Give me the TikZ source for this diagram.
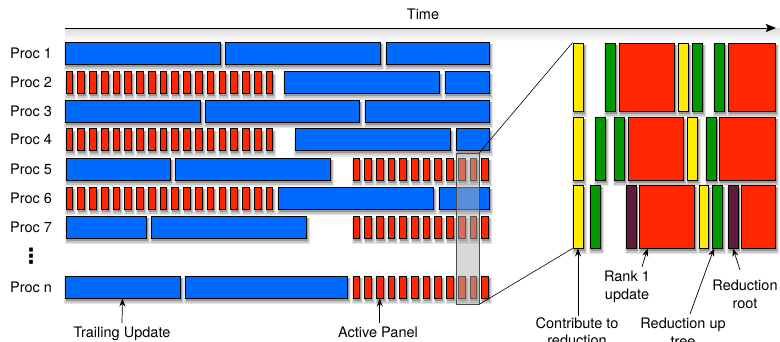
\documentclass[tikz,border=0pt]{standalone}
\usepackage{fontspec}
\setmainfont{TeX Gyre Heros}
\newfontfamily\dotsfont{DejaVu Sans}
\usepackage{tikz}
\usetikzlibrary{arrows.meta}
\pgfdeclarelayer{nodelayer}
\pgfdeclarelayer{edgelayer}
\pgfsetlayers{nodelayer,edgelayer,main}
\definecolor{trailblue}{RGB}{0,106,255}
\definecolor{panelred}{RGB}{255,38,0}
\definecolor{contribyellow}{RGB}{255,236,0}
\definecolor{upgreen}{RGB}{0,153,0}
\definecolor{rootpurple}{RGB}{94,28,58}
\tikzset{
    none/.style = {inner sep=0pt},
    box/.style = {draw=black, line width=0.9pt, inner sep=0pt},
    softshadow/.style = {fill=black!10},
    midshadow/.style = {fill=black!22},
    hardshadow/.style = {fill=black!40},
    trail/.style = {box, fill=trailblue},
    panel/.style = {box, fill=panelred},
    contrib/.style = {box, fill=contribyellow},
    upgr/.style = {box, fill=upgreen},
    rankone/.style = {box, fill=panelred},
    redroot/.style = {box, fill=rootpurple},
    hilite/.style = {draw=black!70, line width=0.6pt, fill=black!30, fill opacity=0.5, inner sep=0pt},
    lbl/.style = {inner sep=0pt, font=\fontsize{14.5}{17.5}\selectfont, align=center},
    zoomline/.style = {line width=0.6pt},
    pointer/.style = {-{Stealth[length=8pt, width=6pt]}, line width=0.7pt}
}
% style, name, left, right, top, bottom
\newcommand{\chunk}[6]{%
    \fill [softshadow] ({(#3)-1}, {(#5)+2}) rectangle ({(#4)+3.5}, {(#6)+6});
    \fill [midshadow] ({(#3)}, {(#5)+2}) rectangle ({(#4)+2.5}, {(#6)+4.5});
    \fill [hardshadow] ({(#3)+0.5}, {(#5)+2}) rectangle ({(#4)+1.5}, {(#6)+2.5});
    \pgfmathsetmacro{\chunkw}{(#4)-(#3)}%
    \pgfmathsetmacro{\chunkh}{(#6)-(#5)}%
    \node [#1, minimum width=\chunkw pt, minimum height=\chunkh pt] (#2) at ({((#3)+(#4))/2}, {((#5)+(#6))/2}) {};}

\begin{document}
\begin{tikzpicture}[x=1pt, y=-1pt]
    \useasboundingbox (0,0) rectangle (780,341);
    \begin{pgfonlayer}{nodelayer}
        \shade [top color=black!14, bottom color=white] (65,28) rectangle (780,41);
        \node [lbl, anchor=base] (time) at (423,19) {Time};
        \coordinate (t0) at (65,28);
        \coordinate (t1) at (776,28);
        \node [lbl] (l1) at (31,53) {Proc 1};
        \node [lbl] (l2) at (31,82.5) {Proc 2};
        \node [lbl] (l3) at (31,111) {Proc 3};
        \node [lbl] (l4) at (31,139.5) {Proc 4};
        \node [lbl] (l5) at (31,169) {Proc 5};
        \node [lbl] (l6) at (31,198) {Proc 6};
        \node [lbl] (l7) at (31,227) {Proc 7};
        \node [lbl, font=\fontsize{21}{21}\dotsfont\bfseries] (ld) at (31,256) {⋮};
        \node [lbl] (ln) at (31,287) {Proc n};
        % trailing updates
        \chunk{trail}{t1a}{65}{220}{42}{64}
        \chunk{trail}{t1b}{225}{380}{42}{64}
        \chunk{trail}{t1c}{386}{489}{42}{64}
        \chunk{trail}{t2a}{284}{439}{71.5}{93.5}
        \chunk{trail}{t2b}{445}{489}{71.5}{93.5}
        \chunk{trail}{t3a}{65}{200}{100}{122}
        \chunk{trail}{t3b}{205}{359}{100}{122}
        \chunk{trail}{t3c}{365}{489}{100}{122}
        \chunk{trail}{t4a}{295}{450}{128.5}{150.5}
        \chunk{trail}{t4b}{456}{489}{128.5}{150.5}
        \chunk{trail}{t5a}{66}{170}{158}{180}
        \chunk{trail}{t5b}{175}{330}{158}{180}
        \chunk{trail}{t6a}{278}{433}{187}{209}
        \chunk{trail}{t6b}{439}{489}{187}{209}
        \chunk{trail}{t7a}{66}{146}{216}{238}
        \chunk{trail}{t7b}{151}{306}{216}{238}
        \chunk{trail}{tna}{65}{180}{276}{298}
        \chunk{trail}{tnb}{185}{347}{276}{298}
        % panels
        \foreach \r/\y in {2/71.5, 4/128.5, 6/187} {
            \foreach \i in {0,...,17} {
                \chunk{panel}{p\r-\i}{66+11.77*\i}{72.7+11.77*\i}{\y}{\y+22}
            }
        }
        \foreach \r/\y in {5/158, 7/216, n/276} {
            \foreach \i in {0,...,11} {
                \chunk{panel}{p\r-\i}{353+11.7*\i}{359.7+11.7*\i}{\y}{\y+22}
            }
        }
        % zoomed columns
        \chunk{contrib}{yA1}{573}{583}{43}{111}
        \chunk{upgr}{gA1}{605}{615}{43}{111}
        \chunk{rankone}{rA1}{619}{674}{43}{111}
        \chunk{contrib}{yA2}{678}{688}{43}{111}
        \chunk{upgr}{gA2}{692}{702}{43}{111}
        \chunk{upgr}{gA3}{714}{724}{43}{111}
        \chunk{rankone}{rA2}{728}{775}{43}{111}
        \chunk{contrib}{yB1}{573}{583}{117}{180}
        \chunk{upgr}{gB1}{595}{605}{117}{180}
        \chunk{upgr}{gB2}{614}{624}{117}{180}
        \chunk{rankone}{rB1}{628}{683}{117}{180}
        \chunk{contrib}{yB2}{687}{697}{117}{180}
        \chunk{upgr}{gB3}{706}{716}{117}{180}
        \chunk{rankone}{rB2}{719}{775}{117}{180}
        \chunk{contrib}{yC1}{573}{583}{185}{248}
        \chunk{upgr}{gC1}{590}{600}{185}{248}
        \chunk{redroot}{pC1}{626}{636}{185}{248}
        \chunk{rankone}{rC1}{639}{694}{185}{248}
        \chunk{contrib}{yC2}{699}{708}{185}{248}
        \chunk{upgr}{gC2}{712}{722}{185}{248}
        \chunk{redroot}{pC2}{728}{738}{185}{248}
        \chunk{rankone}{rC2}{741}{775}{185}{248}
        \node [lbl, anchor=north] (tu) at (122,327) {Trailing Update};
        \node [lbl, anchor=north] (ap) at (378,327) {Active Panel};
        \node [lbl, anchor=north] (ct) at (577,317) {Contribute to\\reduction};
        \node [lbl, anchor=north] (rk) at (627,271) {Rank 1\\update};
        \node [lbl, anchor=north] (ru) at (683,318) {Reduction up\\tree};
        \node [lbl, anchor=north] (rr) at (745,280) {Reduction\\root};
    \end{pgfonlayer}
    \begin{pgfonlayer}{edgelayer}
        \draw [-{Stealth[length=10pt, width=8pt, inset=1.5pt]}, line width=0.8pt] (t0) to (t1);
        \node [hilite, minimum width=23pt, minimum height=151pt] (hl) at (467.5,228.5) {};
        \draw [zoomline] (hl.north east) to (yA1.north west);
        \draw [zoomline] (hl.south east) to (yC1.south west);
        \draw [pointer] ([yshift=4pt]tu.north) to (tna.south);
        \draw [pointer] ([yshift=4pt]ap.north -| pn-2.south) to (pn-2.south);
        \draw [pointer] ([yshift=1pt]ct.north -| yC1.south) to (yC1.south);
        \draw [pointer] ([xshift=15pt, yshift=4pt]rk.north) to ([xshift=9pt]rC1.south west);
        \draw [pointer] ([xshift=7pt, yshift=4pt]ru.north) to ([xshift=-3pt]gC2.south);
        \draw [pointer] ([xshift=-5pt, yshift=10pt]rr.north) to (pC2.south);
    \end{pgfonlayer}
\end{tikzpicture}
\end{document}
